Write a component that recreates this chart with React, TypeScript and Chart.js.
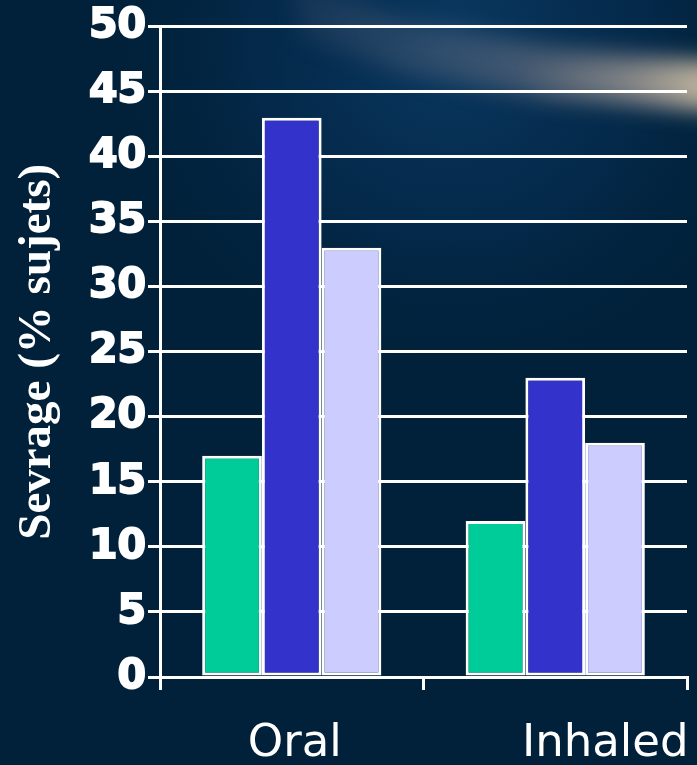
import React, { useEffect, useRef } from "react";
import { Chart, registerables } from "chart.js";

Chart.register(...registerables);

const categories = ["Oral", "Inhaled"];
const seriesNames = ["Série 1", "Série 2", "Série 3"];
const seriesGreen = [17, 12];
const seriesBlue = [43, 23];
const seriesLavender = [33, 18];
const yTicks = [0, 5, 10, 15, 20, 25, 30, 35, 40, 45, 50];
const yTitle = "Sevrage (% sujets)";

const W = 697;
const H = 765;

// Dark navy backdrop with a soft blue glow and a pale light streak at the top right.
const backdrop = {
  id: "backdrop",
  beforeDraw(chart: Chart) {
    const ctx = chart.ctx;
    ctx.save();
    ctx.fillStyle = "#01213a";
    ctx.fillRect(0, 0, chart.width, chart.height);

    const glow = ctx.createRadialGradient(450, 40, 0, 450, 40, 360);
    glow.addColorStop(0, "rgba(14,66,112,0.75)");
    glow.addColorStop(0.55, "rgba(8,52,96,0.4)");
    glow.addColorStop(1, "rgba(1,33,58,0)");
    ctx.fillStyle = glow;
    ctx.fillRect(0, 0, chart.width, 430);

    // the streak: a blurred band widening and brightening toward the right edge
    ctx.filter = "blur(11px)";
    const band = ctx.createLinearGradient(300, 0, 720, 0);
    band.addColorStop(0, "rgba(70,85,110,0.25)");
    band.addColorStop(0.45, "rgba(105,112,130,0.5)");
    band.addColorStop(0.8, "rgba(150,145,145,0.7)");
    band.addColorStop(1, "rgba(200,185,160,0.9)");
    ctx.fillStyle = band;
    ctx.beginPath();
    ctx.moveTo(290, -25);
    ctx.lineTo(400, 20);
    ctx.lineTo(550, 47);
    ctx.lineTo(720, 62);
    ctx.lineTo(720, 112);
    ctx.lineTo(550, 100);
    ctx.lineTo(400, 72);
    ctx.lineTo(300, 35);
    ctx.closePath();
    ctx.fill();

    const core = ctx.createLinearGradient(520, 0, 720, 0);
    core.addColorStop(0, "rgba(190,175,155,0)");
    core.addColorStop(1, "rgba(215,200,170,0.6)");
    ctx.fillStyle = core;
    ctx.beginPath();
    ctx.moveTo(520, 66);
    ctx.lineTo(720, 72);
    ctx.lineTo(720, 100);
    ctx.lineTo(520, 86);
    ctx.closePath();
    ctx.fill();
    ctx.filter = "none";
    ctx.restore();

    // category labels sit a little right of their slots
    const x = chart.scales.x as any;
    const items = x.getLabelItems();
    const shifts = [3, 50];
    items.forEach((it: any, i: number) => {
      if (!it.__shifted) {
        it.options.translation[0] += shifts[i] || 0;
        it.__shifted = true;
      }
    });
  },
};

export default function App() {
  const canvasRef = useRef<HTMLCanvasElement | null>(null);

  useEffect(() => {
    const canvas = canvasRef.current;
    if (!canvas) return;
    const barStyle = {
      borderColor: "#ffffff",
      borderWidth: 3,
      borderSkipped: false as const,
      barPercentage: 1,
      categoryPercentage: 0.68,
    };
    const chart = new Chart(canvas, {
      type: "bar",
      data: {
        labels: categories,
        datasets: [
          { label: seriesNames[0], data: seriesGreen, backgroundColor: "#00cc99", ...barStyle },
          { label: seriesNames[1], data: seriesBlue, backgroundColor: "#3333cc", ...barStyle },
          { label: seriesNames[2], data: seriesLavender, backgroundColor: "#ccccff", ...barStyle },
        ],
      },
      options: {
        animation: false,
        responsive: false,
        devicePixelRatio: 1,
        layout: { padding: { top: 24, right: 10, bottom: 0, left: 0 } },
        plugins: {
          legend: { display: false },
          tooltip: { enabled: false },
        },
        scales: {
          x: {
            grid: {
              display: true,
              drawOnChartArea: false,
              drawTicks: true,
              tickLength: 13,
              color: "#ffffff",
              lineWidth: 3,
              offset: true,
            },
            border: { display: true, color: "#ffffff", width: 3 },
            ticks: {
              color: "#ffffff",
              padding: 27,
              font: { family: "'DejaVu Sans', Verdana, sans-serif", size: 45 },
            },
            afterFit(scale: any) {
              scale.height = 88;
            },
          },
          y: {
            min: 0,
            max: 50,
            afterBuildTicks(scale: any) {
              scale.ticks = yTicks.map((v) => ({ value: v }));
            },
            grid: {
              color: "#ffffff",
              lineWidth: 3,
              drawTicks: true,
              tickLength: 12,
            },
            border: { display: true, color: "#ffffff", width: 3 },
            ticks: {
              color: "#ffffff",
              padding: 2,
              textStrokeColor: "#ffffff",
              textStrokeWidth: 2,
              font: { family: "'DejaVu Sans', Verdana, sans-serif", size: 41, weight: "bold" },
            },
            title: {
              display: true,
              text: yTitle,
              color: "#ffffff",
              padding: { top: 10, bottom: 0 },
              font: { family: "'Liberation Serif', 'DejaVu Serif', serif", size: 47, weight: "bold" },
            },
            afterFit(scale: any) {
              scale.width = 160;
            },
          },
        },
      },
      plugins: [backdrop],
    });
    return () => chart.destroy();
  }, []);

  return (
    <div style={{ position: "fixed", left: 0, top: 0, width: W, height: H }}>
      <canvas ref={canvasRef} width={W} height={H} style={{ display: "block", width: W, height: H }} />
    </div>
  );
}
